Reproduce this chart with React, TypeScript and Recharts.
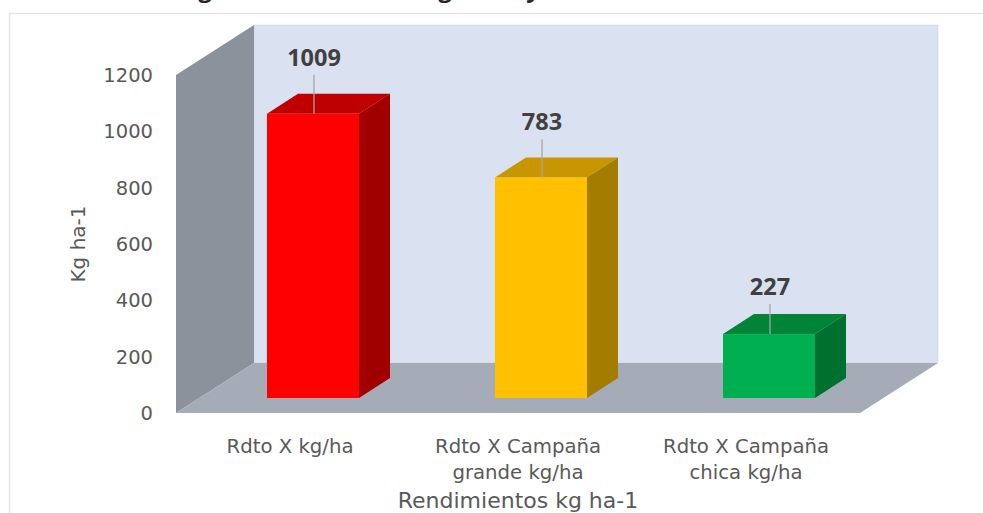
import React from 'react';
import { BarChart, Bar, XAxis, YAxis, LabelList, usePlotArea } from 'recharts';

const categories = ['Rdto X kg/ha', 'Rdto X Campaña grande kg/ha', 'Rdto X Campaña chica kg/ha'];
const yields = [1009, 783, 227];
const yTicks = [0, 200, 400, 600, 800, 1000, 1200];
const frontColors = ['#ff0000', '#ffc000', '#00b050'];
const topColors = ['#c00000', '#c89700', '#008437'];
const sideColors = ['#a00000', '#a37c00', '#007030'];
const leaderLengths = [39, 38, 30];
const titleScraps = ['g', 'g', 'y'];
const titleScrapLeft = [205, 445, 533];

const data = categories.map((name, i) => ({ name, value: yields[i] }));

const FONT = '"DejaVu Sans", sans-serif';
const BOLD_FONT = '"Open Sans", sans-serif';
const GREY = '#595959';
const WALL = { dx: 78, dy: 50 };
const BOX = { dx: 31, dy: 20 };
const SHIFT = { dx: 23, dy: 15 };

const pts = (arr: number[][]) => arr.map((p) => p.join(',')).join(' ');

function Walls() {
  const a = usePlotArea();
  if (!a) return null;
  const { x, y, width: w, height: h } = a;
  const { dx, dy } = WALL;
  return (
    <g>
      <rect x={9.5} y={13.5} width={1000} height={520} fill="#fff" stroke="#e6e6e6" strokeWidth={1.5} />
      {titleScraps.map((s, i) => (
        <text key={i} x={titleScrapLeft[i]} y={-3} textAnchor="middle" fontFamily={BOLD_FONT} fontWeight={700} fontSize={24} fill="#262626">{s}</text>
      ))}
      <polygon points={pts([[x + dx, y - dy], [x + w + dx, y - dy], [x + w + dx, y + h - dy], [x + dx, y + h - dy]])} fill="#dae1f0" stroke="#cdd3e0" strokeWidth={0.6} />
      <polygon points={pts([[x, y], [x + dx, y - dy], [x + dx, y + h - dy], [x, y + h]])} fill="#8b929c" />
      <polygon points={pts([[x, y + h], [x + w, y + h], [x + w + dx, y + h - dy], [x + dx, y + h - dy]])} fill="#a5acb7" />
    </g>
  );
}

function Box3D(props: any) {
  const { x, y, width: w, height: h, index: i } = props;
  const l = x + SHIFT.dx;
  const t = y - SHIFT.dy;
  const { dx, dy } = BOX;
  return (
    <g>
      <polygon points={pts([[l, t], [l + dx, t - dy], [l + w + dx, t - dy], [l + w, t]])} fill={topColors[i]} />
      <polygon points={pts([[l + w, t], [l + w + dx, t - dy], [l + w + dx, t + h - dy], [l + w, t + h]])} fill={sideColors[i]} />
      <rect x={l} y={t} width={w} height={h} fill={frontColors[i]} />
    </g>
  );
}

function ValueLabel(props: any) {
  const { x, y, width: w, value, index: i } = props;
  const cx = x + w / 2 + SHIFT.dx;
  const t = y - SHIFT.dy;
  const len = leaderLengths[i];
  return (
    <g>
      <line x1={cx + 1} x2={cx + 1} y1={t} y2={t - len} stroke="#a6a6a6" strokeWidth={1.3} />
      <text x={cx + 1} y={t - len - 9} textAnchor="middle" fontFamily={BOLD_FONT} fontWeight={700} fontSize={23.5} fill="#404040">{value}</text>
    </g>
  );
}

function wrap(label: string, limit: number) {
  const lines: string[] = [];
  let cur = '';
  for (const word of label.split(' ')) {
    const next = cur ? cur + ' ' + word : word;
    if (next.length > limit && cur) {
      lines.push(cur);
      cur = word;
    } else cur = next;
  }
  lines.push(cur);
  return lines;
}

function CategoryTick(props: any) {
  const { x, y, payload } = props;
  return (
    <text x={x} y={y} textAnchor="middle" fontFamily={FONT} fontSize={19.7} fill={GREY}>
      {wrap(payload.value, 16).map((line, i) => (
        <tspan key={i} x={x} dy={i === 0 ? 32 : 26}>{line}</tspan>
      ))}
    </text>
  );
}

export default function App() {
  return (
    <div style={{ position: 'absolute', left: 0, top: 0, width: 983, height: 513, overflow: 'hidden', background: '#fff' }}>
      <BarChart width={983} height={513} data={data} margin={{ top: 75, right: 123, bottom: 0, left: 0 }}>
        <Walls />
        <XAxis
          dataKey="name"
          height={100}
          axisLine={false}
          tickLine={false}
          interval={0}
          tick={<CategoryTick />}
          label={{ value: 'Rendimientos kg ha-1', position: 'insideBottom', offset: 5, fontFamily: FONT, fontSize: 22, fill: GREY }}
        />
        <YAxis
          width={176}
          domain={[0, 1200]}
          ticks={yTicks}
          axisLine={false}
          tickLine={false}
          tickMargin={17}
          tick={{ fontFamily: FONT, fontSize: 19.5, fill: GREY }}
          label={{ value: 'Kg ha-1', angle: -90, position: 'insideLeft', offset: 78, textAnchor: 'middle', fontFamily: FONT, fontSize: 20, fill: GREY }}
        />
        <Bar dataKey="value" barSize={92} isAnimationActive={false} shape={<Box3D />}>
          <LabelList dataKey="value" content={<ValueLabel />} />
        </Bar>
      </BarChart>
    </div>
  );
}
